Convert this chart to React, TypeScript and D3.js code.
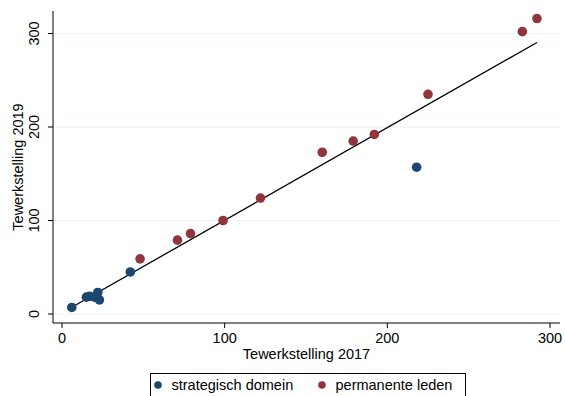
import { useRef, useEffect } from 'react';
import * as d3 from 'd3';

// tewerkstelling 2017 / 2019
const domeinX = [6, 15, 17, 20, 22, 23, 42, 218];
const domeinY = [7, 18, 19, 18, 23, 15, 45, 157];
const ledenX = [48, 71, 79, 99, 122, 160, 179, 192, 225, 283, 292];
const ledenY = [59, 79, 86, 100, 124, 173, 185, 192, 235, 302, 316];
const ticks = [0, 100, 200, 300];
const fit = { a: 1.3, b: 0.99 };

const NAVY = '#1a476f';
const MAROON = '#90353b';
const FONT = 'Liberation Sans, Arial, sans-serif';
const FS = 14.5;

export default function App() {
  const svgRef = useRef(null);
  const width = 565, height = 396;

  useEffect(() => {
    const svg = d3.select(svgRef.current);
    svg.selectAll('*').remove();

    const left = 53, right = 560, top = 11, bottom = 323;
    const x = d3.scaleLinear().domain([0, 300]).range([62, 550]);
    const y = d3.scaleLinear().domain([0, 300]).range([314, 33.5]);

    svg.append('rect').attr('width', width).attr('height', height).attr('fill', '#fff');

    // gridlines
    svg.selectAll('.grid').data(ticks).enter().append('line')
      .attr('x1', left).attr('x2', right)
      .attr('y1', d => y(d)).attr('y2', d => y(d))
      .attr('stroke', '#eaf2f3').attr('stroke-width', 1);

    // fitted line
    const minX = d3.min(domeinX.concat(ledenX));
    const maxX = d3.max(domeinX.concat(ledenX));
    svg.append('line')
      .attr('x1', x(minX)).attr('y1', y(fit.a + fit.b * minX))
      .attr('x2', x(maxX)).attr('y2', y(fit.a + fit.b * maxX))
      .attr('stroke', '#000').attr('stroke-width', 1.3);

    const domein = domeinX.map((v, i) => [v, domeinY[i]]);
    const leden = ledenX.map((v, i) => [v, ledenY[i]]);

    svg.append('g').selectAll('circle').data(domein).enter().append('circle')
      .attr('cx', d => x(d[0])).attr('cy', d => y(d[1])).attr('r', 4.8)
      .attr('fill', NAVY);
    svg.append('g').selectAll('circle').data(leden).enter().append('circle')
      .attr('cx', d => x(d[0])).attr('cy', d => y(d[1])).attr('r', 4.8)
      .attr('fill', MAROON);

    // axes
    svg.append('line').attr('x1', left).attr('x2', left).attr('y1', top).attr('y2', bottom)
      .attr('stroke', '#000').attr('stroke-width', 1);
    svg.append('line').attr('x1', left).attr('x2', right).attr('y1', bottom).attr('y2', bottom)
      .attr('stroke', '#000').attr('stroke-width', 1);

    svg.selectAll('.ytick').data(ticks).enter().append('line')
      .attr('x1', left - 5).attr('x2', left).attr('y1', d => y(d)).attr('y2', d => y(d))
      .attr('stroke', '#000');
    svg.selectAll('.xtick').data(ticks).enter().append('line')
      .attr('x1', d => x(d)).attr('x2', d => x(d)).attr('y1', bottom).attr('y2', bottom + 5)
      .attr('stroke', '#000');

    svg.selectAll('.ylab').data(ticks).enter().append('text')
      .attr('transform', d => `translate(39,${y(d)}) rotate(-90)`)
      .attr('text-anchor', 'middle')
      .attr('font-family', FONT).attr('font-size', FS)
      .text(d => d);
    svg.selectAll('.xlab').data(ticks).enter().append('text')
      .attr('x', d => x(d)).attr('y', 343)
      .attr('text-anchor', 'middle')
      .attr('font-family', FONT).attr('font-size', FS)
      .text(d => d);

    svg.append('text')
      .attr('transform', `translate(23,${(top + bottom) / 2}) rotate(-90)`)
      .attr('text-anchor', 'middle')
      .attr('font-family', FONT).attr('font-size', FS)
      .text('Tewerkstelling 2019');
    svg.append('text')
      .attr('x', (left + right) / 2).attr('y', 359)
      .attr('text-anchor', 'middle')
      .attr('font-family', FONT).attr('font-size', FS)
      .text('Tewerkstelling 2017');

    // legend
    const lg = svg.append('g');
    lg.append('rect').attr('x', 150.5).attr('y', 373.5).attr('width', 315).attr('height', 24)
      .attr('fill', '#fff').attr('stroke', '#000').attr('stroke-width', 1);
    const items = [
      { label: 'strategisch domein', color: NAVY, x: 158 },
      { label: 'permanente leden', color: MAROON, x: 322 },
    ];
    items.forEach(it => {
      lg.append('circle').attr('cx', it.x).attr('cy', 385).attr('r', 3.8).attr('fill', it.color);
      lg.append('text').attr('x', it.x + 13.5).attr('y', 390)
        .attr('font-family', FONT).attr('font-size', FS)
        .text(it.label);
    });
  }, []);

  return (
    <div style={{ position: 'absolute', left: 0, top: 0 }}>
      <svg ref={svgRef} width={width} height={height} style={{ display: 'block' }} />
    </div>
  );
}
